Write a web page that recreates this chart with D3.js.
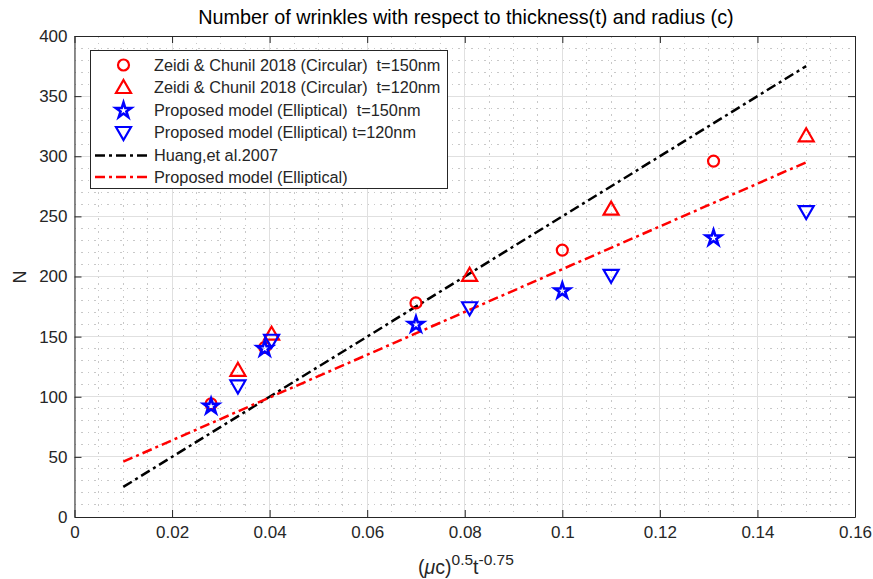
<!DOCTYPE html>
<html>
<head>
<meta charset="utf-8">
<script src="https://cdn.jsdelivr.net/npm/d3@7"></script>
<style>
  html, body { margin: 0; padding: 0; background: #fff; }
  svg { display: block; font-family: "Liberation Sans", Arial, Helvetica, sans-serif; }
</style>
</head>
<body>
<svg id="chart" width="873" height="579"></svg>
<script>
// ---- data ----
const xTicks = [0, 0.02, 0.04, 0.06, 0.08, 0.10, 0.12, 0.14, 0.16];
const xTickLabels = ["0", "0.02", "0.04", "0.06", "0.08", "0.1", "0.12", "0.14", "0.16"];
const yTicks = [0, 50, 100, 150, 200, 250, 300, 350, 400];
const yTickLabels = ["0", "50", "100", "150", "200", "250", "300", "350", "400"];

// t = 150 nm samples
const x150 = [0.028, 0.039, 0.070, 0.100, 0.131];
const circular150 = [94, 141, 178, 222, 296];
const elliptical150 = [92, 140, 160, 188, 232];

// t = 120 nm samples
const x120 = [0.0335, 0.0404, 0.081, 0.110, 0.150];
const circular120 = [122, 152, 201, 256, 317];
const elliptical120 = [109, 147, 174, 201, 254];

// fitted lines
const lineX = [0.01, 0.15];
const huangY = [25, 375];
const proposedY = [46, 295];

const legendLabels = [
  "Zeidi & Chunil 2018 (Circular)  t=150nm",
  "Zeidi & Chunil 2018 (Circular)  t=120nm",
  "Proposed model (Elliptical)  t=150nm",
  "Proposed model (Elliptical) t=120nm",
  "Huang,et al.2007",
  "Proposed model (Elliptical)"
];

// ---- layout ----
const svg = d3.select("#chart");
const L = 74.5, R = 855, T = 36, B = 517;
const axisColor = "#262626";

const x = d3.scaleLinear().domain([0, 0.16]).range([L, R]);
const y = d3.scaleLinear().domain([0, 400]).range([B, T]);

// minor grid (dotted)
const gMinor = svg.append("g");
d3.range(0, 0.16001, 0.005).forEach(v => {
  gMinor.append("line").attr("x1", x(v)).attr("x2", x(v)).attr("y1", T).attr("y2", B);
});
d3.range(0, 400.1, 10).forEach(v => {
  gMinor.append("line").attr("y1", y(v)).attr("y2", y(v)).attr("x1", L).attr("x2", R);
});
gMinor.selectAll("line")
  .attr("stroke", "#c8c8c8").attr("stroke-width", 1)
  .attr("stroke-dasharray", "1.5,5").attr("shape-rendering", "crispEdges");

// major grid
const gMajor = svg.append("g");
gMajor.selectAll("line.vx").data(xTicks).join("line")
  .attr("x1", d => x(d)).attr("x2", d => x(d)).attr("y1", T).attr("y2", B);
gMajor.selectAll("line.hy").data(yTicks).join("line")
  .attr("x1", L).attr("x2", R).attr("y1", d => y(d)).attr("y2", d => y(d));
gMajor.selectAll("line")
  .attr("stroke", "#e0e0e0").attr("stroke-width", 1).attr("shape-rendering", "crispEdges");

// axes on all four sides, ticks pointing inward
function styleAxis(g) {
  g.attr("font-family", null).attr("font-size", 17);
  g.select(".domain").attr("stroke", axisColor).attr("stroke-width", 1);
  g.selectAll(".tick line").attr("stroke", axisColor).attr("stroke-width", 1);
  g.selectAll(".tick text").attr("fill", axisColor);
}
svg.append("g").attr("transform", `translate(0,${B})`)
  .call(d3.axisBottom(x).tickValues(xTicks).tickFormat((d, i) => xTickLabels[i])
    .tickSizeInner(-7).tickSizeOuter(0).tickPadding(9))
  .call(styleAxis);
svg.append("g").attr("transform", `translate(0,${T})`)
  .call(d3.axisTop(x).tickValues(xTicks).tickFormat("").tickSizeInner(-7).tickSizeOuter(0))
  .call(styleAxis);
svg.append("g").attr("transform", `translate(${L},0)`)
  .call(d3.axisLeft(y).tickValues(yTicks).tickFormat((d, i) => yTickLabels[i])
    .tickSizeInner(-7).tickSizeOuter(0).tickPadding(7))
  .call(styleAxis);
svg.append("g").attr("transform", `translate(${R},0)`)
  .call(d3.axisRight(y).tickValues(yTicks).tickFormat("").tickSizeInner(-7).tickSizeOuter(0))
  .call(styleAxis);

// fitted lines
const dash = "10,4,3,4";
const line = d3.line().x(d => x(d[0])).y(d => y(d[1]));
svg.append("path").datum(lineX.map((v, i) => [v, huangY[i]]))
  .attr("d", line).attr("fill", "none").attr("stroke", "#000")
  .attr("stroke-width", 2.5).attr("stroke-dasharray", dash);
svg.append("path").datum(lineX.map((v, i) => [v, proposedY[i]]))
  .attr("d", line).attr("fill", "none").attr("stroke", "#ff0000")
  .attr("stroke-width", 2.5).attr("stroke-dasharray", dash);

// marker shapes
const triUp = "M0,-7.5L7.5,5.5L-7.5,5.5Z";
const triDown = "M0,7.5L7.5,-5.5L-7.5,-5.5Z";
function starPath(ro) {
  const ri = ro * 0.38;
  const pts = [];
  for (let k = 0; k < 10; k++) {
    const r = k % 2 === 0 ? ro : ri;
    const a = -Math.PI / 2 + k * Math.PI / 5;
    pts.push([r * Math.cos(a), r * Math.sin(a)]);
  }
  return "M" + pts.map(p => p[0].toFixed(2) + "," + p[1].toFixed(2)).join("L") + "Z";
}
const star = starPath(8);

function drawMarkers(xs, ys, kind, color) {
  const g = svg.append("g");
  const data = xs.map((v, i) => [v, ys[i]]);
  if (kind === "circle") {
    g.selectAll("circle").data(data).join("circle")
      .attr("cx", d => x(d[0])).attr("cy", d => y(d[1])).attr("r", 5.5)
      .attr("fill", "none").attr("stroke", color).attr("stroke-width", 2.2);
  } else {
    const p = kind === "up" ? triUp : kind === "down" ? triDown : star;
    g.selectAll("path").data(data).join("path")
      .attr("d", p).attr("transform", d => `translate(${x(d[0])},${y(d[1])})`)
      .attr("fill", "none").attr("stroke", color)
      .attr("stroke-width", kind === "star" ? 2.6 : 2.2)
      .attr("stroke-linejoin", "miter");
  }
}
drawMarkers(x150, circular150, "circle", "#ff0000");
drawMarkers(x120, circular120, "up", "#ff0000");
drawMarkers(x150, elliptical150, "star", "#0000ff");
drawMarkers(x120, elliptical120, "down", "#0000ff");

// legend
const lg = svg.append("g");
lg.append("rect").attr("x", 90.5).attr("y", 50.5).attr("width", 357).attr("height", 138)
  .attr("fill", "#fff").attr("stroke", axisColor).attr("stroke-width", 1);
const rowY = [65, 87.5, 110.5, 132.5, 155.5, 177];
const mx = 123.5, tx = 154;
lg.append("circle").attr("cx", mx).attr("cy", rowY[0]).attr("r", 5.5)
  .attr("fill", "none").attr("stroke", "#ff0000").attr("stroke-width", 2.2);
lg.append("path").attr("d", triUp).attr("transform", `translate(${mx},${rowY[1]})`)
  .attr("fill", "none").attr("stroke", "#ff0000").attr("stroke-width", 2.2);
lg.append("path").attr("d", star).attr("transform", `translate(${mx},${rowY[2]})`)
  .attr("fill", "none").attr("stroke", "#0000ff").attr("stroke-width", 2.6);
lg.append("path").attr("d", triDown).attr("transform", `translate(${mx},${rowY[3]})`)
  .attr("fill", "none").attr("stroke", "#0000ff").attr("stroke-width", 2.2);
lg.append("line").attr("x1", 95).attr("x2", 149).attr("y1", rowY[4]).attr("y2", rowY[4])
  .attr("stroke", "#000").attr("stroke-width", 2.5).attr("stroke-dasharray", dash);
lg.append("line").attr("x1", 95).attr("x2", 149).attr("y1", rowY[5]).attr("y2", rowY[5])
  .attr("stroke", "#ff0000").attr("stroke-width", 2.5).attr("stroke-dasharray", dash);
lg.selectAll("text").data(legendLabels).join("text")
  .attr("x", tx).attr("y", (d, i) => rowY[i]).attr("dy", "0.35em")
  .attr("font-size", 16.3).attr("fill", axisColor).attr("xml:space", "preserve")
  .style("white-space", "pre").text(d => d);

// title
svg.append("text").attr("x", 466).attr("y", 24).attr("text-anchor", "middle")
  .attr("font-size", 19.8).attr("fill", "#000")
  .text("Number of wrinkles with respect to thickness(t) and radius (c)");

// y label
svg.append("text").attr("transform", "translate(26,277) rotate(-90)")
  .attr("text-anchor", "middle").attr("font-size", 18).attr("fill", axisColor).text("N");

// x label: (μc)^0.5 t^-0.75
const xl = svg.append("text").attr("x", 466).attr("y", 574).attr("text-anchor", "middle")
  .attr("font-size", 19.5).attr("fill", axisColor);
xl.append("tspan").text("(");
xl.append("tspan").attr("font-style", "italic").text("μ");
xl.append("tspan").text("c)");
xl.append("tspan").attr("dy", -9).attr("font-size", 15.5).text("0.5");
xl.append("tspan").attr("dy", 9).text("t");
xl.append("tspan").attr("dy", -9).attr("font-size", 15.5).text("-0.75");
</script>
</body>
</html>
